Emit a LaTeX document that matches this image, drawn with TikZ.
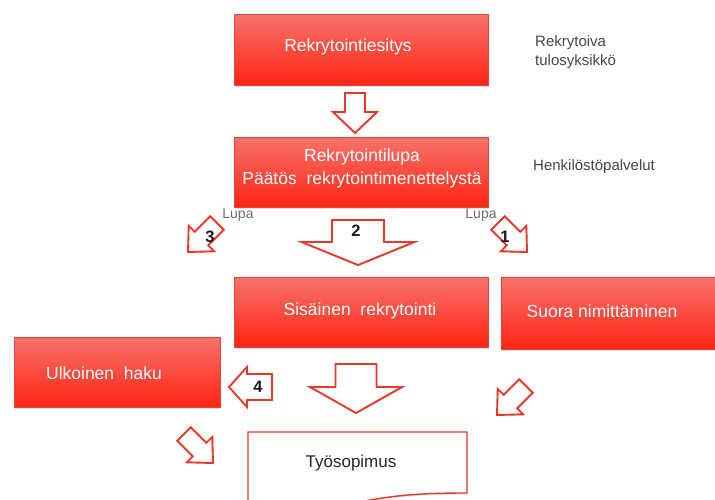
\documentclass[tikz,border=0pt]{standalone}
\usepackage{fontspec}
\setmainfont{Liberation Sans}
\usetikzlibrary{shadows,calc}
\definecolor{boxtop}{RGB}{247,115,108}
\definecolor{boxbot}{RGB}{255,36,18}
\definecolor{boxedge}{RGB}{225,70,60}
\definecolor{arred}{RGB}{232,58,44}
\definecolor{labgray}{RGB}{70,70,70}
\definecolor{lupagray}{RGB}{110,110,110}
\newcommand\blockarr[6]{%
  \begin{scope}[shift={#1}, rotate=#2]
    \draw[barrow] (0,0) -- (-#6,#5) -- (-#6,#4) -- (-#3,#4) -- (-#3,-#4) -- (-#6,-#4) -- (-#6,-#5) -- cycle;
  \end{scope}}
\tikzset{
  redbox/.style={draw=boxedge, line width=0.6pt, top color=boxtop, bottom color=boxbot,
    minimum width=254pt, minimum height=71pt, inner sep=0pt,
    drop shadow={opacity=0.25, shadow xshift=1pt, shadow yshift=-1.5pt}},
  boxtext/.style={text=white, font=\fontsize{17.5}{23}\selectfont, align=center, inner sep=0pt},
  barrow/.style={draw=arred, line width=1.9pt, fill=white, line join=miter,
    drop shadow={opacity=0.2, shadow xshift=1pt, shadow yshift=-1pt}},
  numtext/.style={font=\fontsize{16.5}{18}\selectfont\bfseries, text=black!90, inner sep=0pt},
  sidetext/.style={font=\fontsize{15}{19}\selectfont, text=labgray, align=left, inner sep=0pt, anchor=west},
  lupatext/.style={font=\fontsize{14}{16}\selectfont, text=lupagray, inner sep=0pt},
  docshape/.style={draw=arred, line width=1.4pt, fill=white,
    drop shadow={opacity=0.25, shadow xshift=1pt, shadow yshift=-1.5pt}},
  doctext/.style={font=\fontsize{17}{20}\selectfont, text=black!85, inner sep=0pt}
}
\begin{document}
\begin{tikzpicture}[x=1pt,y=-1pt]
\useasboundingbox (0,0) rectangle (715,499);
\clip (0,0) rectangle (715,499);
\fill[white] (0,0) rectangle (715,499);
% boxes
\node[redbox] (b1) at (361,49.5) {};
\node[boxtext] (t1) at (348,47) {Rekrytointiesitys};
\node[redbox, minimum height=70pt] (b2) at (361,172) {};
\node[boxtext] (t2) at (362,168.5) {Rekrytointilupa\\Päätös\ \ rekrytointimenettelystä};
\node[redbox, minimum height=70pt] (b3) at (361,312) {};
\node[boxtext] (t3) at (360,311) {Sisäinen\ \ rekrytointi};
\node[redbox, minimum width=214pt, minimum height=72pt] (b4) at (608,313) {};
\node[boxtext] (t4) at (602,311) {Suora nimittäminen};
\node[redbox, minimum width=206pt, minimum height=70pt] (b5) at (117,372) {};
\node[boxtext] (t5) at (104,373) {Ulkoinen\ \ haku};
% side labels
\node[sidetext] (s1) at (535,52) {Rekrytoiva\\tulosyksikkö};
\node[sidetext] (s2) at (533,167) {Henkilöstöpalvelut};
\node[lupatext] (l1) at (238,215) {Lupa};
\node[lupatext] (l2) at (481,215) {Lupa};
% block arrows
\blockarr{(355,133)}{-90}{40}{10}{22}{21}
\blockarr{(358,265)}{-90}{45}{26}{56.5}{23}
\blockarr{(188,252)}{-135}{41}{9.5}{18}{19}
\blockarr{(527,252)}{-45}{41}{9.5}{18}{19}
\blockarr{(229,387)}{180}{43}{13}{20}{18}
\blockarr{(356,413)}{-90}{49}{20.5}{46}{26}
\blockarr{(213,463)}{-45}{41}{9.5}{18}{19}
\blockarr{(497,415)}{-135}{41}{9.5}{18}{19}
\node[numtext] (n2) at (356,231) {2};
\node[numtext] (n3) at (210,237) {3};
\node[numtext] (n1) at (505,237) {1};
\node[numtext] (n4) at (258,387) {4};
% document
\draw[docshape] (248,432) -- (467,432) -- (467,493) .. controls (420,493) and (390,495) .. (345,505) -- (248,520) -- cycle;
\node[doctext] (ts) at (351,463) {Työsopimus};
\end{tikzpicture}
\end{document}
